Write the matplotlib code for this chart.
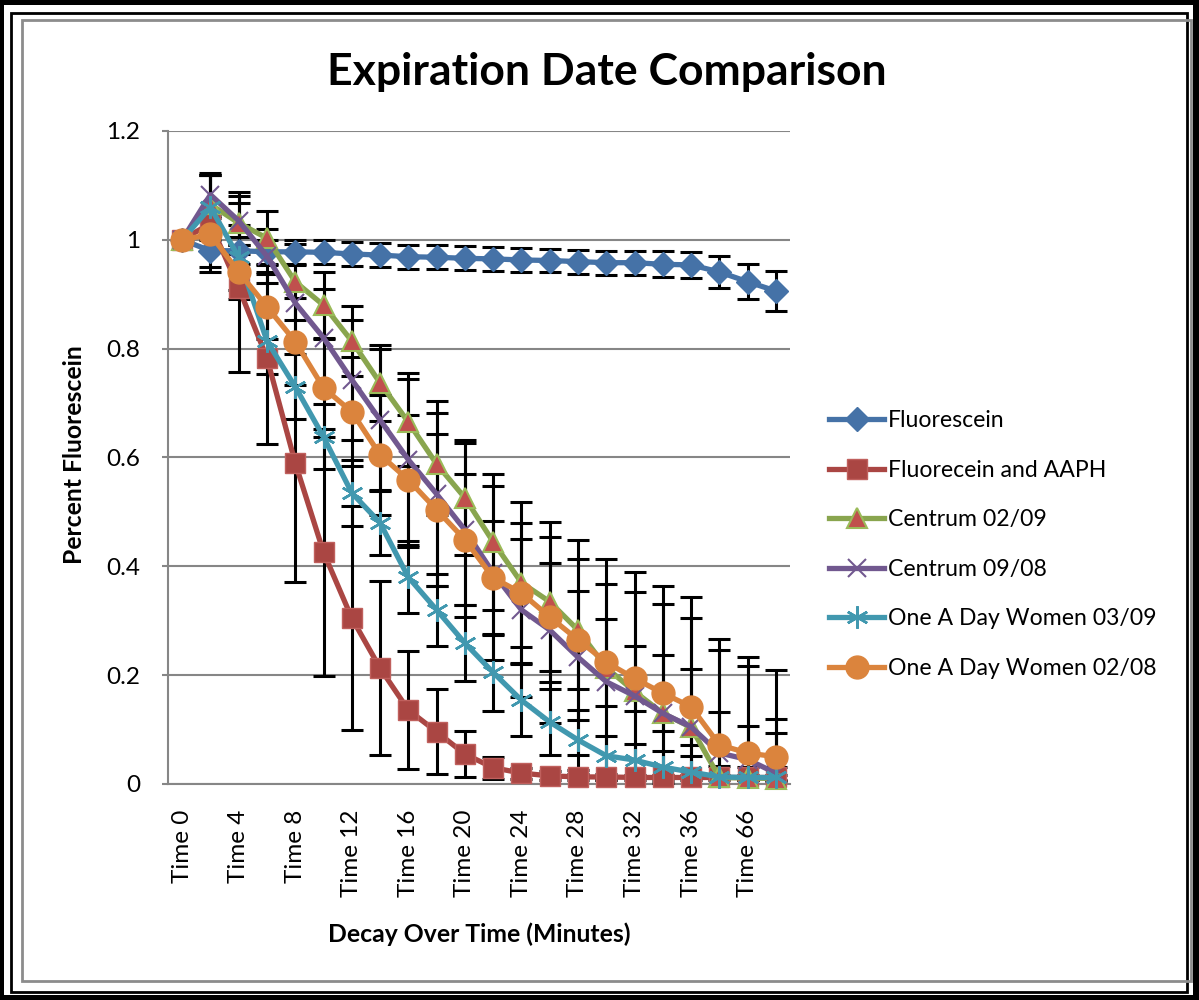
import matplotlib
matplotlib.use("Agg")
import matplotlib.pyplot as plt
from matplotlib.patches import Rectangle
import numpy as np

plt.rcParams['font.family'] = ['Lato', 'DejaVu Sans']

categories = ["Time 0", "Time 2", "Time 4", "Time 6", "Time 8", "Time 10", "Time 12",
              "Time 14", "Time 16", "Time 18", "Time 20", "Time 22", "Time 24", "Time 26",
              "Time 28", "Time 30", "Time 32", "Time 34", "Time 36", "Time 38", "Time 66",
              "Time 68"]

series_names = ["Fluorescein", "Fluorecein and AAPH", "Centrum 02/09", "Centrum 09/08",
                "One A Day Women 03/09", "One A Day Women 02/08"]

fluorescein = [1.0, 0.98, 0.98, 0.978, 0.978, 0.977, 0.974, 0.972, 0.969, 0.968, 0.966, 0.965,
               0.963, 0.962, 0.96, 0.958, 0.958, 0.955, 0.954, 0.941, 0.923, 0.906]
fluorescein_err = [0.0, 0.03, 0.025, 0.022, 0.022, 0.022, 0.022, 0.022, 0.022, 0.022, 0.022,
                   0.022, 0.022, 0.022, 0.022, 0.022, 0.022, 0.024, 0.024, 0.029, 0.032, 0.037]

aaph = [1.0, 1.03, 0.912, 0.783, 0.59, 0.426, 0.305, 0.213, 0.136, 0.096, 0.055, 0.03,
        0.02, 0.015, 0.013, 0.013, 0.012, 0.012, 0.012, 0.012, 0.012, 0.012]
aaph_err = [0.0, 0.09, 0.155, 0.158, 0.219, 0.227, 0.205, 0.16, 0.108, 0.078, 0.043, 0.02,
            0.01, 0.008, 0.005, 0.005, 0.005, 0.005, 0.005, 0.005, 0.005, 0.005]

centrum_0209 = [1.0, 1.065, 1.031, 1.003, 0.923, 0.88, 0.814, 0.737, 0.665, 0.588, 0.526,
                0.445, 0.37, 0.335, 0.283, 0.214, 0.17, 0.13, 0.104, 0.012, 0.011, 0.01]
centrum_0209_err = [0.0, 0.055, 0.057, 0.05, 0.07, 0.06, 0.065, 0.07, 0.08, 0.094, 0.106,
                    0.125, 0.148, 0.147, 0.166, 0.2, 0.22, 0.234, 0.24, 0.255, 0.222, 0.2]

centrum_0908 = [1.0, 1.083, 1.035, 0.97, 0.884, 0.82, 0.743, 0.669, 0.596, 0.533, 0.467,
                0.388, 0.32, 0.283, 0.233, 0.188, 0.162, 0.13, 0.105, 0.057, 0.045, 0.02]
centrum_0908_err = [0.0, 0.04, 0.045, 0.05, 0.07, 0.09, 0.11, 0.13, 0.16, 0.17, 0.16, 0.16,
                    0.16, 0.17, 0.18, 0.18, 0.19, 0.2, 0.2, 0.19, 0.172, 0.1]

oad_0309 = [1.0, 1.06, 0.968, 0.814, 0.73, 0.638, 0.535, 0.48, 0.38, 0.32, 0.259, 0.205,
            0.154, 0.114, 0.081, 0.052, 0.044, 0.031, 0.022, 0.013, 0.012, 0.012]
oad_0309_err = [0.0, 0.06, 0.06, 0.06, 0.06, 0.06, 0.06, 0.06, 0.066, 0.066, 0.07, 0.07,
                0.066, 0.06, 0.055, 0.037, 0.03, 0.03, 0.03, 0.02, 0.02, 0.02]

oad_0208 = [1.0, 1.01, 0.941, 0.877, 0.813, 0.728, 0.684, 0.605, 0.559, 0.504, 0.449, 0.379,
            0.351, 0.307, 0.265, 0.224, 0.194, 0.167, 0.142, 0.072, 0.057, 0.05]
oad_0208_err = [0.0, 0.03, 0.05, 0.06, 0.08, 0.09, 0.1, 0.11, 0.12, 0.14, 0.12, 0.105, 0.1,
                0.1, 0.09, 0.08, 0.06, 0.07, 0.07, 0.06, 0.05, 0.044]

y_ticks = [0, 0.2, 0.4, 0.6, 0.8, 1.0, 1.2]
y_tick_labels = ["0", "0.2", "0.4", "0.6", "0.8", "1", "1.2"]

W, H = 1199, 1000
fig = plt.figure(figsize=(W / 100, H / 100), dpi=100)
fig.patch.set_facecolor('white')


def fx(px):
    return px / W


def fy(py):
    return 1 - py / H


# ---- frame ----
def band(x0, y0, x1, y1, color):
    fig.add_artist(Rectangle((fx(x0), fy(y1)), fx(x1) - fx(x0), fy(y0) - fy(y1),
                             transform=fig.transFigure, facecolor=color, edgecolor='none',
                             zorder=0))


band(0, 0, W, 5, 'black')
band(0, 0, 4, H, 'black')
band(1193, 0, W, H, 'black')
band(0, 995, W, H, 'black')
fig.add_artist(Rectangle((fx(11), fy(992)), fx(1187) - fx(11), fy(13) - fy(992),
                         transform=fig.transFigure, facecolor='none', edgecolor='black',
                         linewidth=2.0, zorder=0))
fig.add_artist(Rectangle((fx(22), fy(981)), fx(1191) - fx(22), fy(20) - fy(981),
                         transform=fig.transFigure, facecolor='none', edgecolor='#8c8c8c',
                         linewidth=2.0, zorder=0))

# ---- axes ----
ax = fig.add_axes([fx(168), fy(784), fx(790) - fx(168), fy(131) - fy(784)])
ax.set_facecolor('none')
x = np.arange(len(categories))

colors = ['#4572A7', '#AA4643', '#89A54E', '#71588F', '#4198AF', '#DB843D']
data = [fluorescein, aaph, centrum_0209, centrum_0908, oad_0309, oad_0208]
errs = [fluorescein_err, aaph_err, centrum_0209_err, centrum_0908_err, oad_0309_err,
        oad_0208_err]
markers = ['D', 's', '^', 'x', (6, 2, 0), 'o']
msizes = [12, 15, 15, 13.5, 16, 16.5]
mfc = ['#4572A7', '#AA4643', '#C0504D', 'none', 'none', '#DB843D']
mec = ['#4572A7', '#C0605D', '#9BBB59', '#71588F', '#4198AF', '#DB843D']
mew = [1, 1, 1.5, 1.5, 1.8, 1]

for i in range(len(data)):
    ax.errorbar(x, data[i], yerr=errs[i], fmt='none', ecolor='black', elinewidth=2.2,
                capsize=8, capthick=2.2, zorder=2, clip_on=True)

handles = []
for i in range(len(data)):
    ln, = ax.plot(x, data[i], color=colors[i], linewidth=3.8, marker=markers[i],
                  markersize=msizes[i], markerfacecolor=mfc[i], markeredgecolor=mec[i],
                  markeredgewidth=mew[i], zorder=3 + i, label=series_names[i],
                  solid_joinstyle='round', clip_on=False)
    handles.append(ln)

ax.set_xlim(-0.5, len(categories) - 0.5)
ax.set_ylim(0, 1.2)
ax.set_yticks(y_ticks)
ax.set_yticklabels(y_tick_labels)
ax.set_xticks(x[::2])
ax.set_xticklabels(categories[::2], rotation=90, va='top', ha='center')
ax.tick_params(axis='y', length=4, color='#868686', width=1.5, pad=16, labelsize=17.5)
ax.tick_params(axis='x', length=0, pad=18.5, labelsize=17.5)
ax.grid(axis='y', color='#868686', linewidth=1.5)
ax.set_axisbelow(True)
for s in ['top', 'right']:
    ax.spines[s].set_visible(False)
for s in ['left', 'bottom']:
    ax.spines[s].set_color('#868686')
    ax.spines[s].set_linewidth(1.5)
    ax.spines[s].set_zorder(1.5)

# ---- texts ----
fig.text(fx(607), fy(72), "Expiration Date Comparison", ha='center', va='center',
         fontsize=32, fontweight='bold')
fig.text(fx(75), fy(455), "Percent Fluorescein", ha='center', va='center',
         rotation=90, fontsize=17.8, fontweight='bold')
fig.text(fx(479), fy(934), "Decay Over Time (Minutes)", ha='center', va='center',
         fontsize=17.8, fontweight='bold')

# ---- legend ----
leg = fig.legend(handles=handles, loc='upper left',
                 bbox_to_anchor=(fx(829), fy(410)), bbox_transform=fig.transFigure,
                 frameon=False, fontsize=16.6, handlelength=2.39, handletextpad=0.15,
                 labelspacing=1.24, borderpad=0, borderaxespad=0, markerscale=1.0)

fig.savefig('out.png', dpi=100)
